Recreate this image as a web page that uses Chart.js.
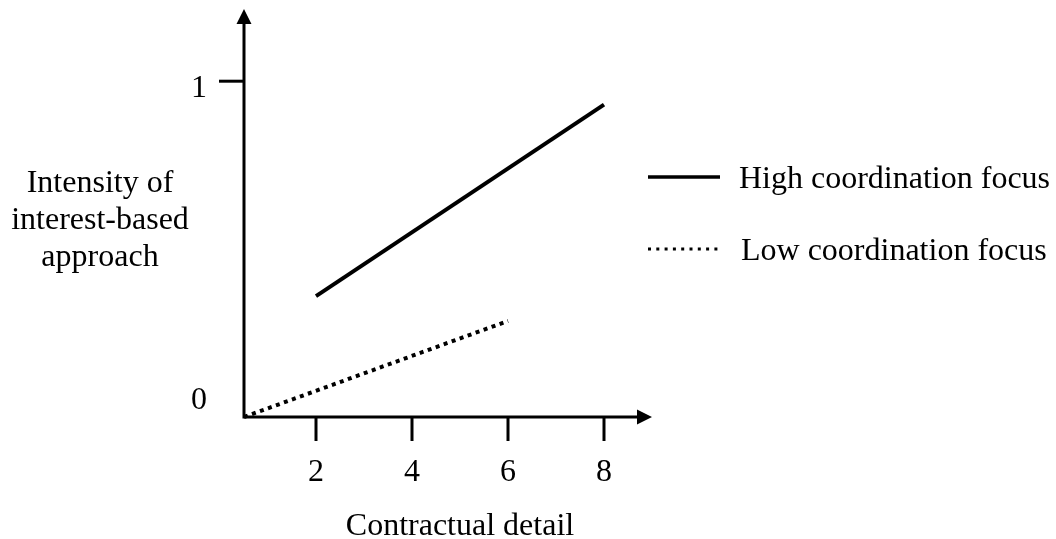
<!DOCTYPE html>
<html>
<head>
<meta charset="utf-8">
<script src="https://cdn.jsdelivr.net/npm/chart.js@4.4.1/dist/chart.umd.min.js"></script>
<style>
  html, body { margin: 0; padding: 0; background: #fff; }
  #wrap { width: 1056px; height: 539px; position: relative; }
</style>
</head>
<body>
<div id="wrap"><canvas id="grafico"></canvas></div>
<script>
const highX = [2, 8];
const highY = [0.36, 0.93];
const lowX = [0.5, 6];
const lowY = [0, 0.286];
const xTicks = [2, 4, 6, 8];
const yTicks = [0, 1];
const xMin = 0.5, xMax = 9;
const yMin = 0, yMax = 1.215;
const xTitle = 'Contractual detail';
const yTitle = ['Intensity of', 'interest-based', 'approach'];
const seriesNames = ['High coordination focus', 'Low coordination focus'];

const FONT = '32px "Liberation Serif", "Times New Roman", serif';

function pontos(xs, ys) {
    return xs.map((x, i) => ({ x: x, y: ys[i] }));
}

// axes with arrows, tick marks, labels, titles and legend
const eixos = {
    id: 'eixos',
    afterDraw(chart) {
        const ctx = chart.ctx;
        const sx = chart.scales.x, sy = chart.scales.y;
        const x0 = sx.getPixelForValue(xMin), xEnd = sx.getPixelForValue(xMax);
        const y0 = sy.getPixelForValue(yMin), yEnd = sy.getPixelForValue(yMax);

        ctx.save();
        ctx.strokeStyle = '#000';
        ctx.fillStyle = '#000';
        ctx.lineWidth = 3;
        ctx.lineJoin = 'miter';

        ctx.beginPath();
        ctx.moveTo(x0, yEnd + 10);
        ctx.lineTo(x0, y0);
        ctx.lineTo(xEnd - 10, y0);
        ctx.stroke();

        ctx.beginPath();
        ctx.moveTo(xEnd, y0);
        ctx.lineTo(xEnd - 15, y0 - 7.5);
        ctx.lineTo(xEnd - 15, y0 + 7.5);
        ctx.closePath();
        ctx.moveTo(x0, yEnd);
        ctx.lineTo(x0 - 7.5, yEnd + 15);
        ctx.lineTo(x0 + 7.5, yEnd + 15);
        ctx.closePath();
        ctx.fill();

        ctx.font = FONT;
        ctx.textAlign = 'center';
        ctx.textBaseline = 'alphabetic';

        // x ticks
        xTicks.forEach(v => {
            const px = sx.getPixelForValue(v);
            ctx.beginPath();
            ctx.moveTo(px, y0);
            ctx.lineTo(px, y0 + 24);
            ctx.stroke();
            ctx.fillText(String(v), px, y0 + 64);
        });

        // y ticks (no mark at origin)
        yTicks.forEach(v => {
            const py = sy.getPixelForValue(v);
            if (v !== yMin) {
                ctx.beginPath();
                ctx.moveTo(x0 - 25, py);
                ctx.lineTo(x0, py);
                ctx.stroke();
                ctx.fillText(String(v), x0 - 45, py + 16);
            } else {
                ctx.fillText(String(v), x0 - 45, py - 8);
            }
        });

        // titles
        const midX = (sx.getPixelForValue(xTicks[0]) + sx.getPixelForValue(xTicks[xTicks.length - 1])) / 2;
        ctx.fillText(xTitle, midX, y0 + 118);
        const midY = (y0 + yEnd) / 2;
        yTitle.forEach((t, i) => {
            ctx.fillText(t, 100, midY - 21 + i * 37);
        });

        // legend
        ctx.textAlign = 'left';
        chart.data.datasets.forEach((ds, i) => {
            const ly = 177 + i * 72;
            ctx.beginPath();
            if (ds.borderDash && ds.borderDash.length) {
                ctx.setLineDash([3, 5.3]);
                ctx.lineWidth = 3;
                ctx.moveTo(648, ly);
                ctx.lineTo(718, ly);
            } else {
                ctx.setLineDash([]);
                ctx.lineWidth = 3.5;
                ctx.moveTo(648, ly);
                ctx.lineTo(720, ly);
            }
            ctx.stroke();
            ctx.fillText(ds.label, 739 + i * 2, ly + 10.5);
        });
        ctx.restore();
    }
};

new Chart(document.getElementById('grafico'), {
    type: 'line',
    data: {
        datasets: [
            {
                label: seriesNames[0],
                data: pontos(highX, highY),
                borderColor: '#000',
                borderWidth: 4,
                pointRadius: 0,
                clip: false
            },
            {
                label: seriesNames[1],
                data: pontos(lowX, lowY),
                borderColor: '#000',
                borderWidth: 4,
                borderDash: [4, 4.5],
                pointRadius: 0,
                clip: false
            }
        ]
    },
    options: {
        responsive: true,
        maintainAspectRatio: false,
        animation: false,
        layout: { padding: { left: 244, right: 404, top: 9, bottom: 122 } },
        plugins: {
            legend: { display: false },
            tooltip: { enabled: false }
        },
        scales: {
            x: { type: 'linear', min: xMin, max: xMax, display: false },
            y: { type: 'linear', min: yMin, max: yMax, display: false }
        }
    },
    plugins: [eixos]
});
</script>
</body>
</html>
